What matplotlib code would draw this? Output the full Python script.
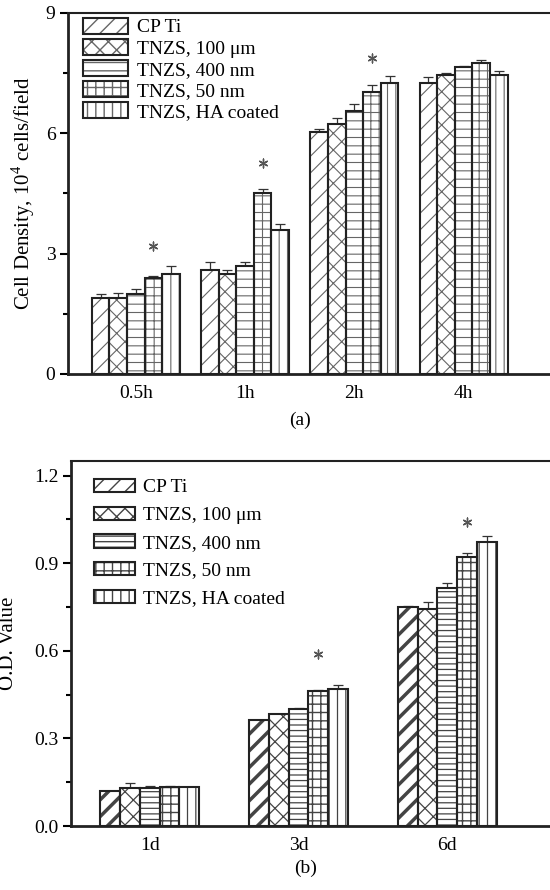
import numpy as np
import matplotlib
matplotlib.use("Agg")
import matplotlib.pyplot as plt
from matplotlib.patches import Patch
from matplotlib.legend_handler import HandlerTuple

plt.rcParams['font.family'] = ['Liberation Serif', 'DejaVu Serif']
plt.rcParams['mathtext.fontset'] = 'custom'
plt.rcParams['mathtext.rm'] = 'Liberation Serif'

series = ["CP Ti", "TNZS, 100 μm", "TNZS, 400 nm", "TNZS, 50 nm", "TNZS, HA coated"]

# Panel (a): cell density
cats_a = ["0.5h", "1h", "2h", "4h"]
vals_a = [
    [1.90, 2.58, 6.03, 7.25],   # CP Ti
    [1.90, 2.49, 6.23, 7.46],   # TNZS 100 um
    [2.00, 2.68, 6.55, 7.66],   # TNZS 400 nm
    [2.39, 4.50, 7.03, 7.75],   # TNZS 50 nm
    [2.49, 3.59, 7.25, 7.46],   # TNZS HA coated
]
errs_a = [
    [0.10, 0.20, 0.09, 0.15],
    [0.13, 0.09, 0.14, 0.04],
    [0.11, 0.10, 0.17, 0.03],
    [0.05, 0.11, 0.17, 0.07],
    [0.20, 0.15, 0.18, 0.09],
]
star_cats_a = ["0.5h", "1h", "2h"]
star_y_a = [3.2, 5.27, 7.87]
yticks_a = [0, 3, 6, 9]

# Panel (b): O.D. value
cats_b = ["1d", "3d", "6d"]
vals_b = [
    [0.120, 0.362, 0.750],
    [0.130, 0.382, 0.744],
    [0.129, 0.401, 0.815],
    [0.133, 0.464, 0.923],
    [0.133, 0.468, 0.974],
]
errs_b = [
    [0.000, 0.000, 0.003],
    [0.016, 0.000, 0.023],
    [0.008, 0.003, 0.017],
    [0.004, 0.003, 0.011],
    [0.000, 0.014, 0.018],
]
star_cats_b = ["3d", "6d"]
star_y_b = [0.588, 1.04]
yticks_b = [0.0, 0.3, 0.6, 0.9, 1.2]

hatches_a = ['//', 'xx', '--', '++', '||']
hatches_b = ['//', 'xx', '---', '++', '||']
hatch_lw_a = [0.8, 0.8, 0.8, 0.8, 0.8]
hatch_lw_b = [2.5, 0.9, 0.9, 1.0, 0.9]
edge = '#222222'
FS = 14

fig = plt.figure(figsize=(5.5, 8.9), dpi=100)


def set_hlw(p, lw):
    if hasattr(p, 'set_hatch_linewidth'):
        p.set_hatch_linewidth(lw)
    else:
        p._hatch_linewidth = lw


def panel(ax, cats, vals, errs, hatches, hlws, hcol, width, star_cats, star_y, ylim, yticks,
          minor, fmt, ylabel, xlim, ms):
    x = np.arange(len(cats))
    n = len(vals)
    handles = []
    for i in range(n):
        pos = x + (i - (n - 1) / 2) * width
        e = np.array(errs[i])
        ax.errorbar(pos, vals[i], yerr=[np.zeros_like(e), e], fmt='none',
                    ecolor='#333333', elinewidth=0.9, capsize=3.5, capthick=0.9, zorder=1)
        hb = ax.bar(pos, vals[i], width, color='white', edgecolor=hcol,
                    hatch=hatches[i], linewidth=0, zorder=2)
        for p in hb:
            set_hlw(p, hlws[i])
        ax.bar(pos, vals[i], width, fill=False, edgecolor=edge, linewidth=1.5, zorder=3)
        h1 = Patch(facecolor='white', edgecolor=hcol, hatch=hatches[i], linewidth=0)
        set_hlw(h1, hlws[i])
        h2 = Patch(fill=False, edgecolor=edge, linewidth=1.5)
        handles.append((h1, h2))
    sx = [cats.index(c) + (3 - (n - 1) / 2) * width for c in star_cats]
    ax.scatter(sx, star_y, marker=(6, 2, 0), s=ms, color='#555555', linewidths=1.0, zorder=4)
    ax.set_xticks(x)
    ax.set_xticklabels(cats, fontsize=FS)
    ax.set_xlim(*xlim)
    ax.set_ylim(*ylim)
    ax.set_yticks(yticks)
    ax.set_yticklabels([fmt.format(t) for t in yticks], fontsize=FS)
    ax.set_yticks(minor, minor=True)
    ax.tick_params(axis='x', length=0, pad=8)
    ax.tick_params(axis='y', which='major', length=6, width=1.5, direction='out', pad=3)
    ax.tick_params(axis='y', which='minor', length=3.5, width=1.5, direction='out')
    ax.spines['right'].set_visible(False)
    for s in ['left', 'bottom']:
        ax.spines[s].set_linewidth(2.0)
        ax.spines[s].set_color(edge)
    ax.spines['top'].set_linewidth(1.5)
    ax.spines['top'].set_color(edge)
    ax.set_ylabel(ylabel, fontsize=15)
    return handles


ax1 = fig.add_axes([0.1236, 0.5798, 1 - 0.1236, 0.9854 - 0.5798])
h1 = panel(ax1, cats_a, vals_a, errs_a, hatches_a, hatch_lw_a, '#666666', 0.161,
           star_cats_a, star_y_a, (0, 9), yticks_a, [1.5, 4.5, 7.5], '{:g}',
           'Cell Density, 10$^4$ cells/field', (-0.62, 3.79), 40)
ax1.yaxis.set_label_coords(-0.065, 0.5)
ax1.legend(h1, series, handler_map={tuple: HandlerTuple(ndivide=1, pad=0)},
           loc='upper left', bbox_to_anchor=(0.031, 0.987), frameon=False, fontsize=FS,
           handlelength=2.3, handleheight=0.88, handletextpad=0.46, labelspacing=0.13,
           borderaxespad=0, borderpad=0)

ax2 = fig.add_axes([0.129, 0.0719, 1 - 0.129, 0.482 - 0.0719])
h2 = panel(ax2, cats_b, vals_b, errs_b, hatches_b, hatch_lw_b, '#444444', 0.133,
           star_cats_b, star_y_b, (0, 1.25), yticks_b, [0.15, 0.45, 0.75, 1.05], '{:.1f}',
           'O.D. Value', (-0.53, 2.69), 40)
ax2.yaxis.set_label_coords(-0.11, 0.5)
ax2.legend(h2, series, handler_map={tuple: HandlerTuple(ndivide=1, pad=0)},
           loc='upper left', bbox_to_anchor=(0.048, 0.951), frameon=False, fontsize=FS,
           handlelength=2.1, handleheight=0.67, handletextpad=0.41, labelspacing=0.53,
           borderaxespad=0, borderpad=0)

fig.text(300 / 550, 1 - 420 / 890, '(a)', ha='center', va='center', fontsize=FS)
fig.text(306 / 550, 1 - 868 / 890, '(b)', ha='center', va='center', fontsize=FS)

fig.savefig('out.png', dpi=100)
